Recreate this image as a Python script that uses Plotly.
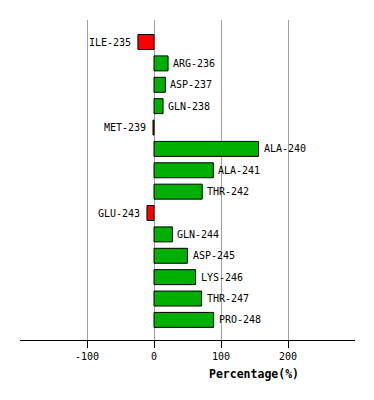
import plotly.graph_objects as go

residues = ["ILE-235", "ARG-236", "ASP-237", "GLN-238", "MET-239", "ALA-240", "ALA-241",
            "THR-242", "GLU-243", "GLN-244", "ASP-245", "LYS-246", "THR-247", "PRO-248"]
percentages = [-24, 21, 17, 13.5, -1.5, 156, 88.5, 72, -10.5, 27.5, 50, 62, 71, 89]
tick_values = [-100, 0, 100, 200]
tick_labels = ["-100", "0", "100", "200"]

GREEN = "#00B000"
RED = "#FF0000"
FONT = "DejaVu Sans Mono"

pos = list(range(len(residues)))
colors = [GREEN if v >= 0 else RED for v in percentages]

fig = go.Figure()
fig.add_trace(go.Bar(
    x=percentages, y=pos, orientation="h", width=0.70,
    marker=dict(color=colors, line=dict(color="black", width=1)),
    hoverinfo="skip",
))

for p, v, name in zip(pos, percentages, residues):
    if v >= 0:
        fig.add_annotation(x=v, y=p, text=name, showarrow=False, xanchor="left",
                           yanchor="middle", xshift=3, font=dict(family=FONT, size=10, color="black"))
    else:
        fig.add_annotation(x=v, y=p, text=name, showarrow=False, xanchor="right",
                           yanchor="middle", xshift=-5, font=dict(family=FONT, size=10, color="black"))

fig.add_annotation(x=0.70, y=-0.106, xref="paper", yref="paper", text="<b>Percentage(%)</b>",
                   showarrow=False, xanchor="center", yanchor="middle",
                   font=dict(family=FONT, size=11.5, color="black"))

# page body has an 8px default margin, so the figure is 8px smaller and margins shifted
fig.update_layout(
    width=366, height=392,
    margin=dict(l=12, r=19, t=12, b=60),
    paper_bgcolor="white", plot_bgcolor="white",
    showlegend=False,
    xaxis=dict(range=[-200, 300], tickvals=tick_values, ticktext=tick_labels,
               showgrid=True, gridcolor="#A0A0A0", gridwidth=1, zeroline=False,
               showline=True, linecolor="black", linewidth=1,
               ticks="outside", ticklen=7, tickcolor="black", tickwidth=1,
               tickfont=dict(family=FONT, size=10, color="black")),
    yaxis=dict(range=[13.94, -1.03], showgrid=False, zeroline=False, showticklabels=False,
               showline=False, ticks=""),
)

fig.write_html("out.html")
